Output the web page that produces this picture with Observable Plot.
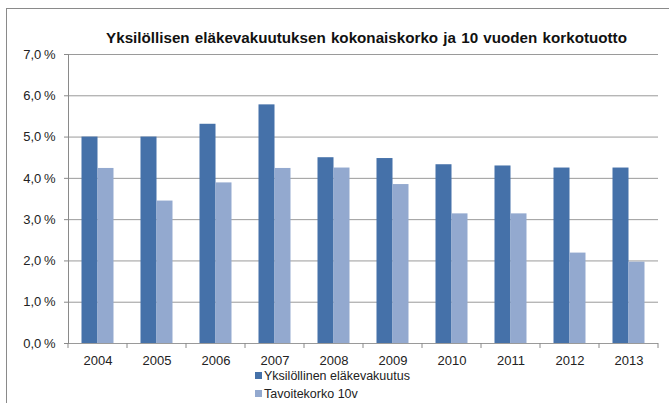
<!DOCTYPE html>
<html>
<head>
<meta charset="utf-8">
<script src="https://cdn.jsdelivr.net/npm/d3@7"></script>
<script src="https://cdn.jsdelivr.net/npm/@observablehq/plot@0.6"></script>
<style>
  html, body { margin: 0; padding: 0; background: #fff; }
  #wrap { position: relative; width: 669px; height: 403px; overflow: hidden; font-family: "Liberation Sans", Arial, sans-serif; }
  #border { position: absolute; left: 6px; top: 8px; width: 720px; height: 440px; border: 1px solid #8a8a8a; box-sizing: border-box; }
  #chart { position: absolute; left: 0; top: 0; }
  #title { position: absolute; left: 0; top: 30px; width: 733px; text-align: center; font-weight: bold; font-size: 15.2px; word-spacing: 1px; line-height: 16px; color: #111; }
  .leg { position: absolute; left: 255px; font-size: 12.5px; line-height: 15px; color: #222; white-space: nowrap; }
  .leg span.sw { display: inline-block; width: 7px; height: 7px; margin-right: 2px; vertical-align: 1px; }
</style>
</head>
<body>
<div id="wrap">
  <div id="border"></div>
  <div id="chart"></div>
  <div id="title"></div>
  <div id="legend"></div>
</div>
<script>
const titleText = "Yksilöllisen eläkevakuutuksen kokonaiskorko ja 10 vuoden korkotuotto";
const years = ["2004", "2005", "2006", "2007", "2008", "2009", "2010", "2011", "2012", "2013"];
const seriesNames = ["Yksilöllinen eläkevakuutus", "Tavoitekorko 10v"];
const yksilollinen = [5.00, 5.00, 5.31, 5.78, 4.50, 4.48, 4.33, 4.30, 4.25, 4.25];
const tavoitekorko = [4.24, 3.45, 3.89, 4.24, 4.25, 3.85, 3.14, 3.14, 2.19, 1.97];
const yTicks = [0, 1, 2, 3, 4, 5, 6, 7];
const colors = ["#4571A9", "#93A9CF"];

const data = years.flatMap((yr, i) => [
  {year: yr, series: seriesNames[0], value: yksilollinen[i]},
  {year: yr, series: seriesNames[1], value: tavoitekorko[i]}
]);

const fmt = d => d.toFixed(1).replace(".", ",") + "\u2009%";

const chart = Plot.plot({
  width: 669,
  height: 403,
  marginTop: 54,
  marginBottom: 60,
  marginLeft: 66.5,
  marginRight: 9.5,
  style: {fontFamily: "'Liberation Sans', Arial, sans-serif", fontSize: "13px", color: "#222", background: "transparent", overflow: "visible"},
  fx: {domain: years, padding: 0, label: null},
  x: {domain: seriesNames, paddingInner: 0, paddingOuter: 0.78, axis: null},
  y: {domain: [0, 7], ticks: yTicks, label: null},
  color: {domain: seriesNames, range: colors},
  marks: [
    Plot.gridY(yTicks, {stroke: "#9a9a9a", strokeOpacity: 1}),
    Plot.barY(data, {fx: "year", x: "series", y: "value", fill: "series"}),
    Plot.frame({anchor: "left", stroke: "#8a8a8a", strokeOpacity: 1, facetAnchor: "left"}),
    Plot.axisY(yTicks, {tickSize: 4, tickPadding: 9, tickFormat: fmt, label: null, stroke: "#8a8a8a", fill: "#222"}),
    Plot.axisFx({anchor: "bottom", tickSize: 0, tickPadding: 12, label: null, fill: "#222"})
  ]
});

// category boundary ticks on the x axis, placed with Plot's own fx and y scales
const fxScale = chart.scale("fx");
const yScale = chart.scale("y");
const y0 = yScale.apply(0);
const edges = years.map(yr => fxScale.apply(yr)).concat([fxScale.apply(years[years.length - 1]) + fxScale.bandwidth]);
d3.select(chart).append("g")
  .attr("stroke", "#8a8a8a")
  .selectAll("line")
  .data(edges)
  .join("line")
  .attr("x1", d => d).attr("x2", d => d)
  .attr("y1", y0).attr("y2", y0 + 5);

document.getElementById("chart").appendChild(chart);
document.getElementById("title").textContent = titleText;

const legend = document.getElementById("legend");
const legendTops = [369, 387];
seriesNames.forEach((name, i) => {
  const row = document.createElement("div");
  row.className = "leg";
  row.style.top = legendTops[i] + "px";
  const sw = document.createElement("span");
  sw.className = "sw";
  sw.style.background = colors[i];
  row.appendChild(sw);
  row.appendChild(document.createTextNode(name));
  legend.appendChild(row);
});
</script>
</body>
</html>
